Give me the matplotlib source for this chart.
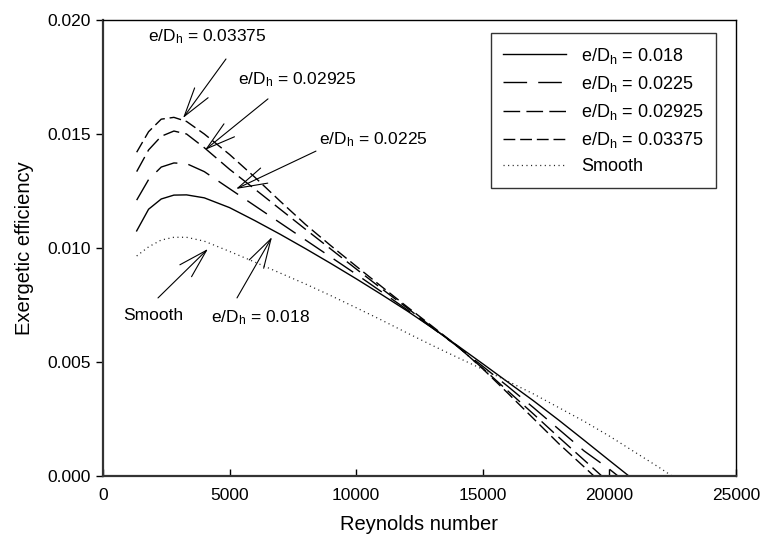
import matplotlib
matplotlib.use("Agg")
import matplotlib.pyplot as plt

plt.rcParams['font.family'] = ['Liberation Sans', 'DejaVu Sans']
plt.rcParams['mathtext.fontset'] = 'custom'
plt.rcParams['mathtext.rm'] = 'Liberation Sans'
plt.rcParams['mathtext.it'] = 'Liberation Sans'
plt.rcParams['lines.scale_dashes'] = False

# ---------------- data ----------------
re_018 = [1330, 1800, 2300, 2800, 3300, 4000, 5000, 6000, 7000, 8000, 9000, 10000,
          11000, 12000, 13000, 14000, 15000, 16000, 17000, 18000, 19000, 20000, 20770]
eff_018 = [0.01075, 0.01170, 0.01215, 0.01232, 0.01233, 0.01220, 0.01177, 0.01120,
           0.01060, 0.00997, 0.00932, 0.00865, 0.00796, 0.00725, 0.00650, 0.00572,
           0.00492, 0.00411, 0.00330, 0.00245, 0.00157, 0.00068, 0.0]

re_0225 = [1330, 1800, 2300, 2800, 3300, 4000, 5000, 6000, 7000, 8000, 9000, 10000,
           11000, 12000, 13000, 14000, 15000, 16000, 17000, 18000, 19000, 20000, 20340]
eff_0225 = [0.01210, 0.01300, 0.01355, 0.01373, 0.01370, 0.01335, 0.01260, 0.01185,
            0.01110, 0.01035, 0.00960, 0.00885, 0.00808, 0.00730, 0.00650, 0.00568,
            0.00481, 0.00392, 0.00300, 0.00205, 0.00110, 0.00030, 0.0]

re_02925 = [1330, 1800, 2300, 2800, 3300, 4000, 5000, 6000, 7000, 8000, 9000, 10000,
            11000, 12000, 13000, 14000, 15000, 16000, 17000, 18000, 19000, 19700]
eff_02925 = [0.01335, 0.01430, 0.01490, 0.01513, 0.01500, 0.01440, 0.01345, 0.01258,
             0.01170, 0.01082, 0.00995, 0.00908, 0.00822, 0.00738, 0.00653, 0.00568,
             0.00472, 0.00372, 0.00272, 0.00170, 0.00070, 0.0]

re_03375 = [1330, 1800, 2300, 2800, 3300, 4000, 5000, 6000, 7000, 8000, 9000, 10000,
            11000, 12000, 13000, 14000, 15000, 16000, 17000, 18000, 19000, 19390]
eff_03375 = [0.01420, 0.01510, 0.01565, 0.01573, 0.01555, 0.01500, 0.01410, 0.01310,
             0.01205, 0.01103, 0.01010, 0.00920, 0.00831, 0.00743, 0.00657, 0.00570,
             0.00470, 0.00362, 0.00252, 0.00142, 0.00040, 0.0]

re_smooth = [1330, 1800, 2300, 2800, 3300, 4000, 5000, 6000, 7000, 8000, 9000, 10000,
             11000, 12000, 13000, 14000, 15000, 16000, 17000, 18000, 19000, 20000,
             21000, 22000, 22470]
eff_smooth = [0.00965, 0.01005, 0.01035, 0.01047, 0.01047, 0.01030, 0.00985, 0.00938,
              0.00890, 0.00842, 0.00791, 0.00738, 0.00684, 0.00628, 0.00573, 0.00520,
              0.00468, 0.00415, 0.00360, 0.00300, 0.00240, 0.00175, 0.00105, 0.00035, 0.0]

legend_labels = [r'e/D$_{\mathregular{h}}$ = 0.018', r'e/D$_{\mathregular{h}}$ = 0.0225',
                 r'e/D$_{\mathregular{h}}$ = 0.02925', r'e/D$_{\mathregular{h}}$ = 0.03375',
                 'Smooth']

x_ticks = [0, 5000, 10000, 15000, 20000, 25000]
y_ticks = [0.000, 0.005, 0.010, 0.015, 0.020]

# ---------------- figure ----------------
fig = plt.figure(figsize=(7.6, 5.43), dpi=100)
ax = fig.add_axes([103/760, 67/543, 633/760, 456/543])

lw = 1.0
ax.plot(re_018, eff_018, color='black', lw=lw, linestyle='-', label=legend_labels[0])
ax.plot(re_0225, eff_0225, color='black', lw=lw, linestyle=(0, (17, 8)), label=legend_labels[1])
ax.plot(re_02925, eff_02925, color='black', lw=lw, linestyle=(0, (12, 4.5)), label=legend_labels[2])
ax.plot(re_03375, eff_03375, color='black', lw=lw, linestyle=(0, (8.5, 3.5)), label=legend_labels[3])
ax.plot(re_smooth, eff_smooth, color='#222222', lw=0.9, linestyle=(0, (0.8, 2.5)), label=legend_labels[4])

ax.set_xlim(0, 25000)
ax.set_ylim(0, 0.020)
ax.set_xticks(x_ticks)
ax.set_xticklabels([str(v) for v in x_ticks])
ax.set_yticks(y_ticks)
ax.set_yticklabels(['%.3f' % v for v in y_ticks])
ax.tick_params(axis='x', direction='in', length=5, width=1, labelsize=12.5, pad=9)
ax.tick_params(axis='y', direction='out', length=5, width=1, labelsize=12.5, pad=4)

for s in ['left', 'bottom']:
    ax.spines[s].set_linewidth(1.6)
    ax.spines[s].set_color('#333333')
for s in ['top', 'right']:
    ax.spines[s].set_linewidth(1.0)
    ax.spines[s].set_color('black')

ax.set_xlabel('Reynolds number', fontsize=14.5, labelpad=8)
ax.set_ylabel('Exergetic efficiency', fontsize=14.5, labelpad=9)

leg = ax.legend(loc='upper right', bbox_to_anchor=((716-103)/633, (476-33)/456),
                borderaxespad=0, fontsize=13, frameon=True, fancybox=False,
                handlelength=3.5, handletextpad=0.8, labelspacing=0.45,
                borderpad=0.7)
leg.get_frame().set_edgecolor('black')
leg.get_frame().set_linewidth(1.0)

arrow_kw = dict(arrowstyle='->,head_length=2.1,head_width=0.6', color='black', lw=0.8,
                shrinkA=0, shrinkB=0, mutation_scale=10)

annots = [
    (legend_labels[3], (3160, 0.01570), (4107, 0.01925), (4857, 0.01829)),
    (legend_labels[2], (4028, 0.01430), (7661, 0.01737), (6516, 0.01654)),
    (legend_labels[1], (5252, 0.01259), (10662, 0.01474), (8411, 0.01425)),
    (legend_labels[0], (6674, 0.01048), (6200, 0.00693), (5292, 0.00781)),
    ('Smooth', (4146, 0.00996), (1975, 0.00702), (2172, 0.00781)),
]
for label, tip, textpos, tail in annots:
    ax.text(textpos[0], textpos[1], label, fontsize=12.5, ha='center', va='center')
    ax.annotate('', xy=tip, xytext=tail, arrowprops=arrow_kw)

fig.savefig('out.png', dpi=100)
